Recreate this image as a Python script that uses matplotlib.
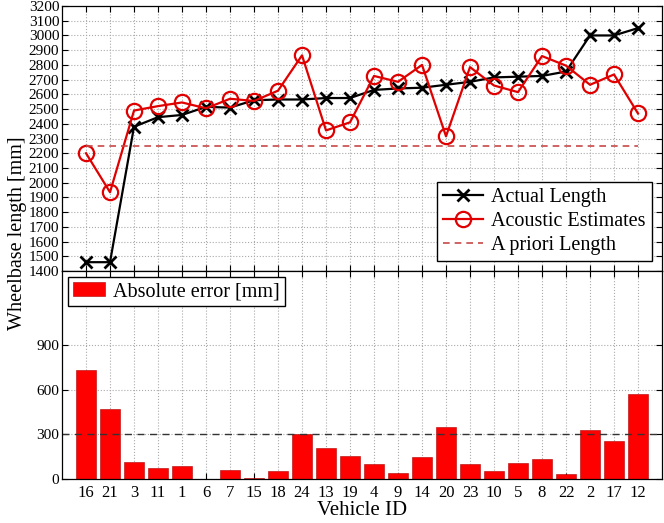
import matplotlib
matplotlib.use("Agg")
import matplotlib.pyplot as plt
import numpy as np

plt.rcParams['font.family'] = ['Liberation Serif', 'DejaVu Serif']

# Vehicle order along the x axis
vehicle_ids = ['16', '21', '3', '11', '1', '6', '7', '15', '18', '24', '13', '19',
               '4', '9', '14', '20', '23', '10', '5', '8', '22', '2', '17', '12']

# Wheelbase lengths [mm]
actual_length = [1460, 1460, 2380, 2445, 2460, 2515, 2510, 2560, 2565, 2565, 2575, 2575,
                 2630, 2640, 2645, 2665, 2685, 2715, 2720, 2725, 2755, 3000, 3000, 3050]
acoustic_est = [2200, 1935, 2490, 2520, 2545, 2505, 2570, 2555, 2625, 2865, 2355, 2410,
                2725, 2685, 2800, 2315, 2785, 2660, 2615, 2860, 2795, 2665, 2735, 2470]
apriori_length = 2250

# Absolute error [mm]
abs_error = [733, 470, 112, 72, 85, 3, 58, 7, 54, 301, 211, 155,
             101, 40, 151, 353, 101, 56, 108, 135, 36, 331, 256, 574]
error_threshold = 300

x = np.arange(1, len(vehicle_ids) + 1)

fig = plt.figure(figsize=(6.64, 5.23), dpi=100)
gs = fig.add_gridspec(2, 1, height_ratios=[265, 208], hspace=0,
                      left=0.0934, right=0.997, top=0.9885, bottom=0.0841)
ax1 = fig.add_subplot(gs[0])
ax2 = fig.add_subplot(gs[1], sharex=ax1)

# top panel: lengths
ax1.plot(x, actual_length, color='black', lw=1.6, marker='x', ms=8, mew=2,
         label='Actual Length')
ax1.plot(x, acoustic_est, color='#e00000', lw=1.6, marker='o', ms=11, mew=1.6,
         mfc='none', label='Acoustic Estimates')
ax1.plot([x[0], x[-1]], [apriori_length, apriori_length], color='#c84848',
         lw=1.2, ls=(0, (4, 3)), label='A priori Length')
ax1.set_ylim(1400, 3200)
ax1.set_yticks(np.arange(1400, 3201, 100))
ax1.legend(loc='lower right', fontsize=14.5, fancybox=False, edgecolor='black',
           framealpha=1, handlelength=2.0, borderpad=0.3, labelspacing=0.25,
           handletextpad=0.4, borderaxespad=0.5)

# bottom panel: absolute error
ax2.bar(x, abs_error, width=0.8, color='#ff0000', edgecolor='#b00000', lw=0.4,
        label='Absolute error [mm]')
ax2.axhline(error_threshold, color='#333333', lw=1.0, ls=(0, (5, 4)))
ax2.set_ylim(0, 1400)
ax2.set_yticks([0, 300, 600, 900])
ax2.legend(loc='upper left', fontsize=14.5, fancybox=False, edgecolor='black',
           framealpha=1, handlelength=1.6, borderpad=0.25, handletextpad=0.4,
           borderaxespad=0.3)

for ax in (ax1, ax2):
    ax.set_xlim(0, 25)
    ax.grid(True, color='#aaaaaa', ls=':', lw=0.8)
    ax.set_axisbelow(True)
    ax.tick_params(direction='in', top=True, right=True, length=4,
                   labelsize=11, width=0.8, pad=2)
    for s in ax.spines.values():
        s.set_linewidth(0.9)

ax2.tick_params(axis='x', labelsize=12, pad=4)
ax2.set_xticks(x)
ax2.set_xticklabels(vehicle_ids)
plt.setp(ax1.get_xticklabels(), visible=False)
ax2.set_xlabel('Vehicle ID', fontsize=15, labelpad=0)
fig.text(0.026, 0.554, 'Wheelbase length [mm]', rotation=90, fontsize=14.5,
         ha='center', va='center')

fig.savefig('out.png', dpi=100)
